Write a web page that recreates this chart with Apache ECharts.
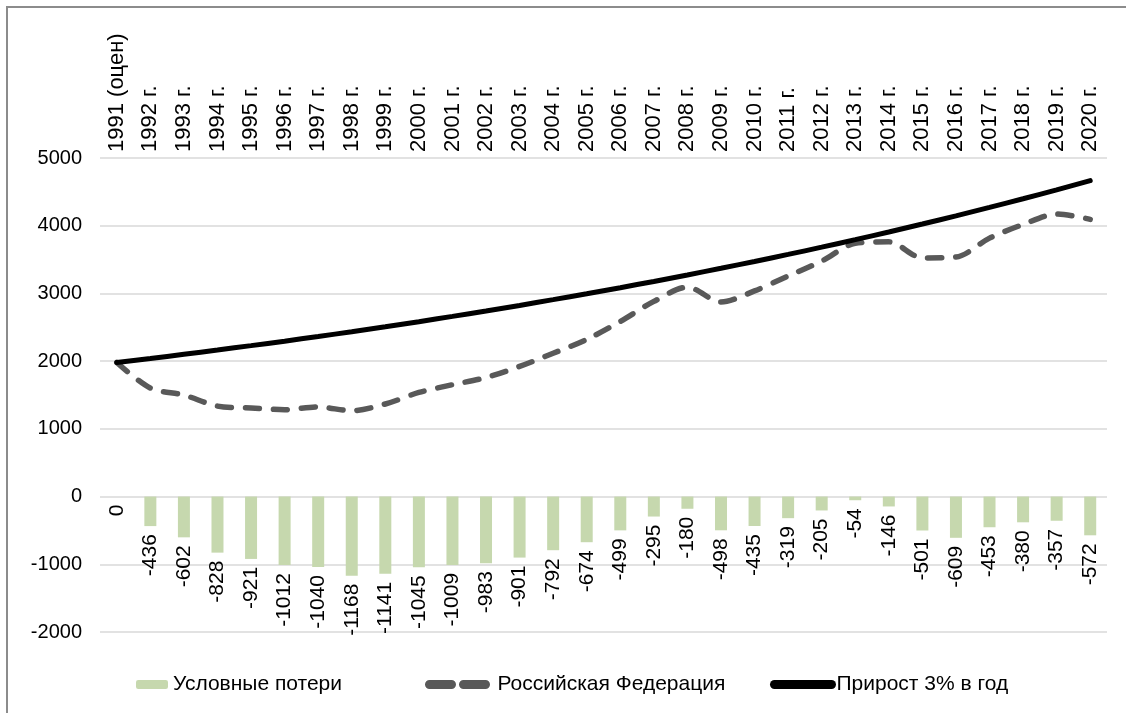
<!DOCTYPE html>
<html>
<head>
<meta charset="utf-8">
<script src="https://cdn.jsdelivr.net/npm/echarts@6/dist/echarts.min.js"></script>
<style>
html,body{margin:0;padding:0;background:#fff;}
#main{width:1126px;height:713px;}
</style>
</head>
<body>
<div id="main"></div>
<script>
const categories = ['1991 (оцен)','1992 г.','1993 г.','1994 г.','1995 г.','1996 г.','1997 г.','1998 г.','1999 г.','2000 г.','2001 г.','2002 г.','2003 г.','2004 г.','2005 г.','2006 г.','2007 г.','2008 г.','2009 г.','2010 г.','2011 г.','2012 г.','2013 г.','2014 г.','2015 г.','2016 г.','2017 г.','2018 г.','2019 г.','2020 г.'];
const losses = [0,-436,-602,-828,-921,-1012,-1040,-1168,-1141,-1045,-1009,-983,-901,-792,-674,-499,-295,-180,-498,-435,-319,-205,-54,-146,-501,-609,-453,-380,-357,-572];
const russia = [1980,1603,1499,1336,1308,1283,1324,1267,1367,1538,1652,1758,1922,2116,2321,2586,2882,3093,2873,3037,3257,3478,3740,3762,3524,3537,3817,4018,4173,4094];
const growth3 = [1980,2039,2101,2164,2229,2295,2364,2435,2508,2583,2661,2741,2823,2908,2995,3085,3177,3273,3371,3472,3576,3683,3794,3908,4025,4146,4270,4398,4530,4666];
const seriesNames = ['Условные потери','Российская Федерация','Прирост 3% в год'];

const FONT = '"Liberation Sans", Arial, sans-serif';
const chart = echarts.init(document.getElementById('main'), null, {renderer:'canvas'});
const noSym = {color:'rgba(0,0,0,0)', borderWidth:0, borderColor:'rgba(0,0,0,0)'};
chart.setOption({
  animation:false,
  backgroundColor:'#fff',
  textStyle:{fontFamily:FONT},
  graphic:[{type:'rect', shape:{x:7,y:7,width:1140,height:740}, style:{fill:'none', stroke:'#8c8c8c', lineWidth:2}, silent:true}],
  grid:{left:100, right:19, top:158, bottom:81},
  legend:[
    {data:[seriesNames[0]], left:131, top:669, itemWidth:32, itemHeight:9, itemGap:0,
     textStyle:{fontSize:21, color:'#000', fontFamily:FONT}},
    {data:[seriesNames[1]], left:420, top:669, itemWidth:63, itemHeight:9, itemGap:0,
     itemStyle:noSym,
     lineStyle:{type:[22,12], width:9, cap:'round', color:'#595959'},
     textStyle:{fontSize:21, color:'#000', fontFamily:FONT}},
    {data:[seriesNames[2]], left:765, top:669, itemWidth:57, itemHeight:9, itemGap:0,
     itemStyle:noSym,
     lineStyle:{width:9, cap:'round', color:'#000'},
     textStyle:{fontSize:21, color:'#000', fontFamily:FONT}}
  ],
  xAxis:{type:'category', data:categories, position:'top',
    axisLine:{show:false}, axisTick:{show:false},
    axisLabel:{rotate:90, interval:0, fontSize:22, color:'#000', margin:6, fontFamily:FONT}},
  yAxis:{type:'value', min:-2000, max:5000, interval:1000,
    axisLine:{show:false}, axisTick:{show:false},
    axisLabel:{fontSize:20, color:'#000', margin:18, fontFamily:FONT, formatter:function(v){return String(v);}},
    splitLine:{lineStyle:{color:'#d9d9d9', width:1.5}}},
  series:[
    {name:seriesNames[0], type:'bar', data:losses, barWidth:12,
     itemStyle:{color:'#c6d8ae'},
     label:{show:true, position:'bottom', rotate:90, align:'right', verticalAlign:'middle', distance:8,
       fontSize:21, color:'#000', fontFamily:FONT}},
    {name:seriesNames[1], type:'line', data:russia, smooth:0.3, symbol:'none', z:3,
     lineStyle:{color:'#595959', width:5.5, type:[14,14], cap:'round'}},
    {name:seriesNames[2], type:'line', data:growth3, smooth:0.3, symbol:'none', z:4,
     lineStyle:{color:'#000', width:5, cap:'round'}}
  ]
});
</script>
</body>
</html>
